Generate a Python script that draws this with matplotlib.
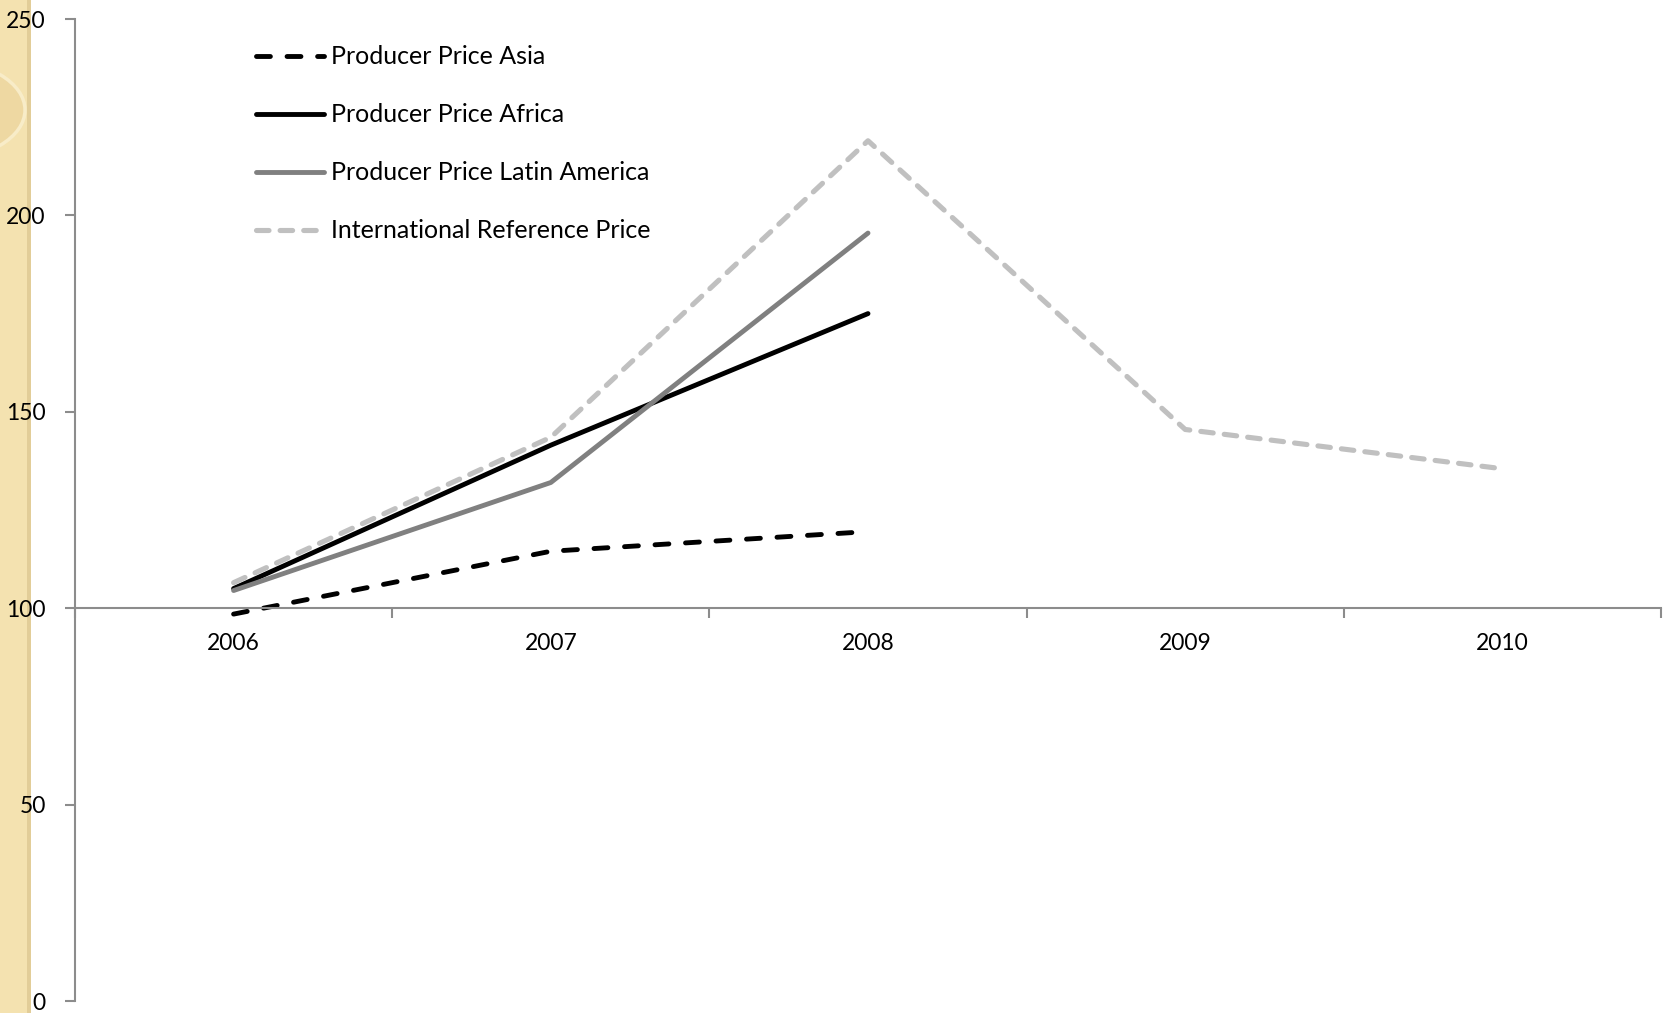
import numpy as np
import matplotlib
matplotlib.use("Agg")
import matplotlib.pyplot as plt
from matplotlib.patches import Rectangle, Ellipse

plt.rcParams['font.family'] = ['Lato', 'DejaVu Sans']
plt.rcParams['lines.scale_dashes'] = False

years = ['2006', '2007', '2008', '2009', '2010']
asia = [98.5, 114.5, 119.5]
africa = [105.0, 141.5, 175.0]
latin_america = [104.5, 132.0, 195.5]
reference_price = [106.5, 143.5, 219.0, 145.5, 135.5]

fig = plt.figure(figsize=(16.7, 10.13), dpi=100)
ax = fig.add_axes([75 / 1670, 12 / 1013, (1661 - 75) / 1670, (1001 - 19) / 1013])

# beige strip down the left edge, behind everything
strip = Rectangle((0, 0), 31 / 1670, 1, transform=fig.transFigure,
                  facecolor='#f4e2b0', edgecolor='none', zorder=-3)
fig.patches.append(strip)
ring = Ellipse((-60 / 1670, 1 - 110 / 1013), 170 / 1670, 100 / 1013,
               transform=fig.transFigure, facecolor='#eed8a2',
               edgecolor='#f8ecc8', lw=2.5, zorder=-2)
ring.set_clip_path(strip)
fig.patches.append(ring)
edge = Rectangle((27 / 1670, 0), 4 / 1670, 1, transform=fig.transFigure,
                 facecolor='#e2cd98', edgecolor='none', zorder=-1)
fig.patches.append(edge)

x = np.arange(len(years))
ax.plot(x[:3], asia, color='black', lw=3.5, dashes=(10, 12),
        dash_capstyle='round', label='Producer Price Asia')
ax.plot(x[:3], africa, color='black', lw=3.5, solid_capstyle='round',
        label='Producer Price Africa')
ax.plot(x[:3], latin_america, color='#808080', lw=3.5, solid_capstyle='round',
        label='Producer Price Latin America')
ax.plot(x, reference_price, color='#c0c0c0', lw=3.7, dashes=(9, 8),
        dash_capstyle='round', label='International Reference Price')

ax.set_xlim(-0.5, 4.5)
ax.set_ylim(0, 250)

for s in ['top', 'right']:
    ax.spines[s].set_visible(False)
ax.spines['bottom'].set_position(('data', 100))
for s in ['left', 'bottom']:
    ax.spines[s].set_color('#8c8c8c')
    ax.spines[s].set_linewidth(1.5)

ax.set_yticks([0, 50, 100, 150, 200, 250])
ax.tick_params(axis='y', direction='out', length=7, width=1.5, color='#8c8c8c',
               labelsize=16.5, pad=14)
ax.set_xticks(np.arange(-0.5, 5.0, 1.0))
ax.set_xticklabels([])
ax.set_xticks(x, minor=True)
ax.set_xticklabels(years, minor=True)
ax.tick_params(axis='x', which='major', direction='out', length=7, width=1.5,
               color='#8c8c8c')
ax.tick_params(axis='x', which='minor', length=0, labelsize=16.5, pad=18)

ax.legend(loc='upper left', bbox_to_anchor=(0.1, 0.996), frameon=False,
          fontsize=18, handlelength=2.7, handletextpad=0.3, labelspacing=1.4)

fig.savefig('out.png', dpi=100)
